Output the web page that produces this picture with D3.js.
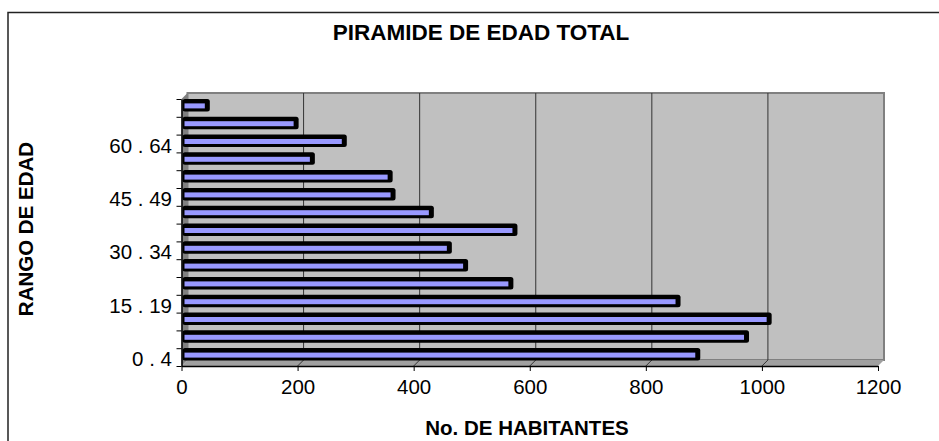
<!DOCTYPE html>
<html>
<head>
<meta charset="utf-8">
<script src="https://cdn.jsdelivr.net/npm/d3@7"></script>
<style>
  body { margin: 0; background: #fff; }
  svg { display: block; font-family: "Liberation Sans", Arial, sans-serif; }
</style>
</head>
<body>
<div id="chart"></div>
<script>
// age groups, bottom to top
const ageGroups = ["0 . 4", "5 . 9", "10 . 14", "15 . 19", "20 . 24", "25 . 29", "30 . 34",
    "35 . 39", "40 . 44", "45 . 49", "50 . 54", "55 . 59", "60 . 64", "65 . 69", "70 . 74"];
const habitantes = [880, 964, 1003, 846, 558, 480, 452, 565, 421, 355, 350, 216, 271, 188, 35];
const xTicks = [0, 200, 400, 600, 800, 1000, 1200];
const labeledGroups = ["0 . 4", "15 . 19", "30 . 34", "45 . 49", "60 . 64"];

const width = 939, height = 441;
const depthX = 6, depthY = 6;
const plotTop = 99, plotBottom = 366;

let svg = d3.select("#chart").append("svg")
    .attr("width", width)
    .attr("height", height);

// outer frame
svg.append("rect")
    .attr("x", 8).attr("y", 12.5)
    .attr("width", 1000).attr("height", 600)
    .attr("fill", "none")
    .attr("stroke", "#222")
    .attr("stroke-width", 1.5);

// scales: front axis, back wall, and bar depth (middle)
const xFront = d3.scaleLinear().domain([0, 1200]).range([181.5, 878]);
const xBack = d3.scaleLinear().domain([0, 1200]).range([181.5 + depthX, 878 + depthX]);
const xBar = d3.scaleLinear().domain([0, 1200]).range([184.5, 881]);

const yFront = d3.scaleBand().domain(ageGroups).range([plotBottom, plotTop]);
const yBar = d3.scaleBand().domain(ageGroups).range([plotBottom - 3, plotTop - 3]);
const yEdges = d3.scaleLinear().domain([0, ageGroups.length]).range([plotBottom, plotTop]);

// back wall
svg.append("rect")
    .attr("x", xBack(0)).attr("y", plotTop - depthY)
    .attr("width", xBack(1200) - xBack(0)).attr("height", plotBottom - plotTop)
    .attr("fill", "#c0c0c0")
    .attr("stroke", "#808080")
    .attr("stroke-width", 2);

// left side wall
svg.append("polygon")
    .attr("points", [[xFront(0), plotTop], [xBack(0), plotTop - depthY], [xBack(0), plotBottom - depthY], [xFront(0), plotBottom]].join(" "))
    .attr("fill", "#808080");

// floor
svg.append("polygon")
    .attr("points", [[xFront(0), plotBottom], [xBack(0), plotBottom - depthY], [xBack(1200), plotBottom - depthY], [xFront(1200), plotBottom]].join(" "))
    .attr("fill", "#a0a0a0");

// gridlines on wall and floor
let grid = svg.append("g");
xTicks.slice(1, -1).forEach(function(v) {
    grid.append("line")
        .attr("x1", xBack(v)).attr("x2", xBack(v))
        .attr("y1", plotTop - depthY).attr("y2", plotBottom - depthY)
        .attr("stroke", "#333").attr("stroke-width", 1);
    grid.append("line")
        .attr("x1", xFront(v)).attr("x2", xBack(v))
        .attr("y1", plotBottom).attr("y2", plotBottom - depthY)
        .attr("stroke", "#333").attr("stroke-width", 1);
});

// bars: black depth body, then blue front face
let bars = svg.append("g");
ageGroups.forEach(function(g, i) {
    let c = yBar(g) + yBar.bandwidth() / 2 + 1;
    let x1 = xBar(habitantes[i]);
    bars.append("rect")
        .attr("x", xBar(0) - 2).attr("y", c - 7)
        .attr("width", x1 - xBar(0) + 7).attr("height", 12.5)
        .attr("rx", 2.5)
        .attr("fill", "#000");
    bars.append("rect")
        .attr("x", xBar(0)).attr("y", c - 2.5)
        .attr("width", x1 - xBar(0)).attr("height", 5)
        .attr("fill", "#9999ff");
});

// x axis
let xAxis = svg.append("g")
    .attr("transform", "translate(0," + plotBottom + ")")
    .call(d3.axisBottom(xFront).tickValues(xTicks).tickFormat(d3.format("d")).tickSize(5).tickSizeOuter(0));
xAxis.select(".domain").attr("stroke", "#000").attr("stroke-width", 1.5);
xAxis.selectAll("line").attr("stroke", "#000");
xAxis.selectAll("text")
    .attr("y", 13)
    .attr("dy", "0.71em")
    .style("font-size", "20.5px")
    .attr("fill", "#000");

// y axis ticks at band edges
let yAxis = svg.append("g")
    .attr("transform", "translate(" + xFront(0) + ",0)")
    .call(d3.axisLeft(yEdges).ticks(ageGroups.length).tickFormat("").tickSize(5).tickSizeOuter(0));
yAxis.select(".domain").attr("stroke", "#000").attr("stroke-width", 1.5);
yAxis.selectAll("line").attr("stroke", "#000");

// y labels at band centers
let yLabels = svg.append("g")
    .attr("transform", "translate(" + (xFront(0) - 9.5) + ",2.5)")
    .call(d3.axisLeft(yFront).tickValues(labeledGroups).tickSize(0));
yLabels.select(".domain").remove();
yLabels.selectAll("text")
    .attr("x", 0)
    .style("font-size", "20.5px")
    .attr("fill", "#000");

// titles
svg.append("text")
    .attr("x", 481).attr("y", 40)
    .attr("text-anchor", "middle")
    .style("font-size", "22.5px")
    .style("font-weight", "bold")
    .text("PIRAMIDE DE EDAD TOTAL");

svg.append("text")
    .attr("x", 527).attr("y", 435)
    .attr("text-anchor", "middle")
    .style("font-size", "20.5px")
    .style("font-weight", "bold")
    .text("No. DE HABITANTES");

svg.append("text")
    .attr("transform", "translate(33,229) rotate(-90)")
    .attr("text-anchor", "middle")
    .style("font-size", "20.5px")
    .style("font-weight", "bold")
    .text("RANGO DE EDAD");
</script>
</body>
</html>
